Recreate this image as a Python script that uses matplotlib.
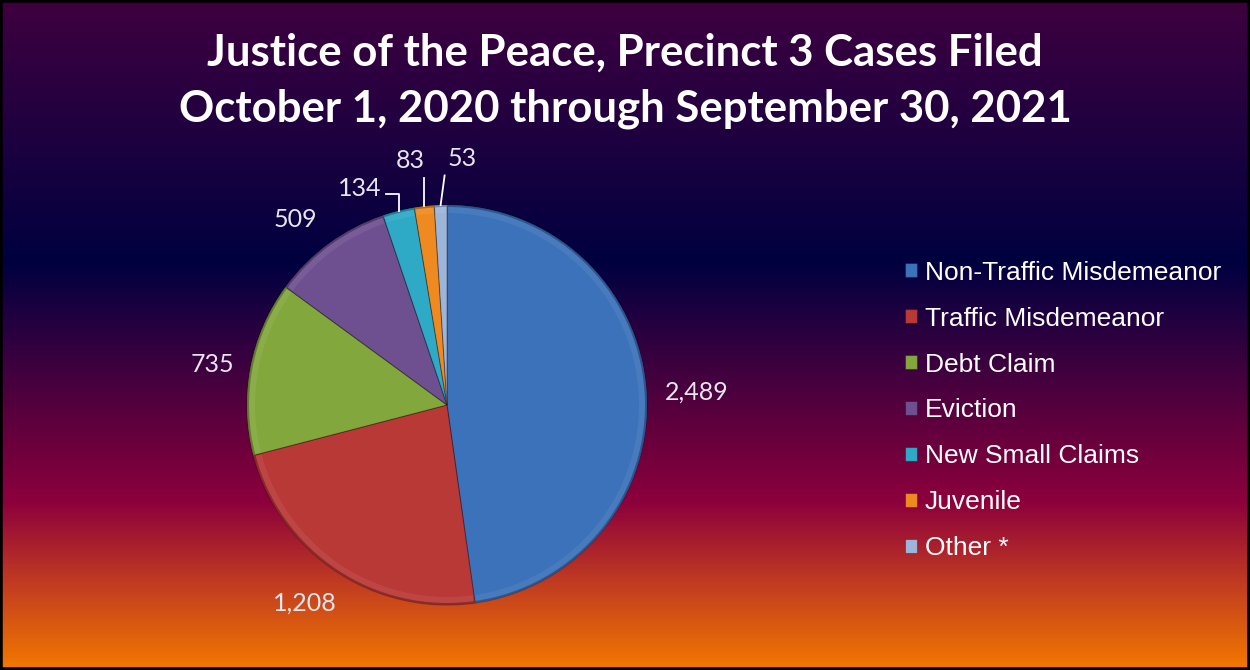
import numpy as np
import matplotlib
matplotlib.use("Agg")
import matplotlib.pyplot as plt
from matplotlib.colors import LinearSegmentedColormap, to_rgb
from matplotlib.patches import Rectangle, Wedge

categories = ["Non-Traffic Misdemeanor", "Traffic Misdemeanor", "Debt Claim",
              "Eviction", "New Small Claims", "Juvenile", "Other *"]
cases = [2489, 1208, 735, 509, 134, 83, 53]
slice_colors = ["#3b72ba", "#b93937", "#82a73c", "#6e5090",
                "#2ea9c6", "#ef8a20", "#9cb5d9"]
title_lines = ["Justice of the Peace, Precinct 3 Cases Filed",
               "October 1, 2020 through September 30, 2021"]

# label placement: angle shift (deg) and distance (in radii) per slice
label_shift = [-1, -2, 1, 3, 8, 2, -5.3]
label_dist = [1.25, 1.22, 1.19, 1.2, 1.17, 1.235, 1.235]

fig = plt.figure(figsize=(12.5, 6.7), dpi=100)

# background gradient
bg = fig.add_axes([0, 0, 1, 1])
bg_cmap = LinearSegmentedColormap.from_list(
    "bg", [(0.0, "#3e003f"), (0.39, "#000040"), (0.75, "#8c003c"),
           (0.87, "#c03a22"), (1.0, "#f27800")])
grad = np.linspace(0, 1, 400).reshape(-1, 1)
bg.imshow(grad, aspect="auto", cmap=bg_cmap, extent=[0, 1, 0, 1], origin="upper")
bg.set_xlim(0, 1)
bg.set_ylim(0, 1)
bg.axis("off")
bg.add_patch(Rectangle((0, 0), 1, 1, transform=bg.transAxes, fill=False,
                       edgecolor="black", linewidth=4, zorder=5))

for i, line in enumerate(title_lines):
    fig.text(0.5, 1 - (53 + 56 * i) / 670, line, ha="center", va="center",
             color="white", fontsize=31.5, fontweight="bold", family="Lato")

# pie
cx, cy, half = 447, 405, 250
ax = fig.add_axes([(cx - half) / 1250, (670 - cy - half) / 670, 2 * half / 1250, 2 * half / 670])
ax.set_xlim(-1.25, 1.25)
ax.set_ylim(-1.25, 1.25)
ax.set_aspect("equal")
ax.axis("off")

def shade(c, f):
    r, g, b = to_rgb(c)
    if f > 0:
        return (r + (1 - r) * f, g + (1 - g) * f, b + (1 - b) * f)
    return (r * (1 + f), g * (1 + f), b * (1 + f))

wedges, _ = ax.pie(cases, colors=slice_colors, startangle=90, counterclock=False,
                   radius=1.0, wedgeprops=dict(edgecolor=(0, 0, 0, 0.3), linewidth=0.8))

for w, c in zip(wedges, slice_colors):
    # subtle bevel: light inner rim and darker outer rim
    ax.add_patch(Wedge((0, 0), 0.99, w.theta1 + 0.4, w.theta2 - 0.4, width=0.03,
                       facecolor=shade(c, 0.2), edgecolor="none", alpha=0.35))
    ax.add_patch(Wedge((0, 0), 1.0, w.theta1, w.theta2, width=0.01,
                       facecolor=shade(c, -0.3), edgecolor="none", alpha=0.8))

label_color = "#e6e6ee"
for k, (w, v) in enumerate(zip(wedges, cases)):
    mid = np.deg2rad((w.theta1 + w.theta2) / 2)
    lab = np.deg2rad((w.theta1 + w.theta2) / 2 + label_shift[k])
    tx, ty = label_dist[k] * np.cos(lab), label_dist[k] * np.sin(lab)
    txt = f"{v:,}"
    ex, ey = np.cos(mid), np.sin(mid)
    if k == 4:
        ax.plot([ex, ex, tx + 0.135], [ey, ty - 0.03, ty - 0.03],
                color="white", linewidth=1.3)
    elif k == 5:
        ax.plot([ex, ex], [ey, ty - 0.085], color="white", linewidth=1.3)
    elif k == 6:
        ax.plot([ex, ex + 0.02], [ey, ty - 0.085], color="white", linewidth=1.3)
    ax.text(tx, ty, txt, ha="center", va="center", color=label_color,
            fontsize=18, family="Lato")

leg = fig.legend(wedges, categories, loc="upper left",
                 bbox_to_anchor=(881 / 1250, 1 - 237 / 670), frameon=False,
                 handlelength=0.45, handleheight=0.45,
                 handletextpad=0.3, labelspacing=0.83,
                 prop={"family": "Liberation Sans", "size": 19})
for t in leg.get_texts():
    t.set_color("white")

fig.savefig("out.png", dpi=100)
